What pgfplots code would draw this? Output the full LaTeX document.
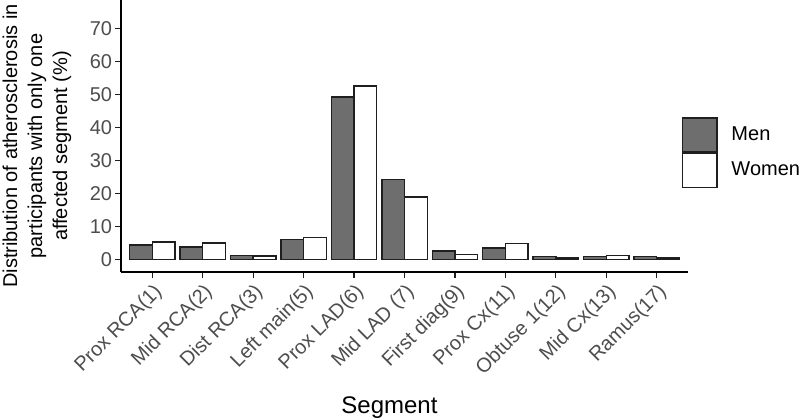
\documentclass[border=0pt]{standalone}
\usepackage{pgfplots}
\pgfplotsset{compat=1.18}
\usepackage{fontspec}
\setmainfont{Liberation Sans}
\definecolor{menfill}{HTML}{6E6E6E}
\definecolor{edge}{HTML}{1F1F1F}
\definecolor{ticklab}{HTML}{4D4D4D}
\pgfplotstableread{
x men women
0 4.5 5.4
1 3.8 5.1
2 1.3 1.1
3 6.2 6.8
4 49.2 52.5
5 24.2 19.0
6 2.6 1.6
7 3.6 4.9
8 1.0 0.5
9 1.0 1.3
10 1.0 0.5
}\datatable
\begin{document}
\begin{tikzpicture}
\begin{axis}[
  scale only axis,
  width=283.5bp, height=136bp,
  xmin=-0.62, xmax=10.62,
  ymin=-3.7, ymax=78.5,
  axis lines=left,
  axis line style={-, line width=0.7bp, black},
  tick style={line width=0.6bp, color=edge},
  tick align=outside,
  major tick length=2.75bp,
  ytick={0,10,...,70},
  xtick={0,...,10},
  xticklabels={Prox RCA(1),Mid RCA(2),Dist RCA(3),Left main(5),Prox LAD(6),Mid LAD (7),First diag(9),Prox Cx(11),Obtuse 1(12),Mid Cx(13),Ramus(17)},
  /pgf/number format/assume math mode=true,
  yticklabel style={font=\fontsize{10bp}{12bp}\selectfont, color=ticklab, inner sep=1.5bp},
  xticklabel style={font=\fontsize{10bp}{12bp}\selectfont, color=ticklab, rotate=45, anchor=north east, inner sep=1.5bp},
  ylabel={Distribution of atherosclerosis in\\participants with only one\\affected segment (\%)},
  ylabel style={font=\fontsize{10bp}{12.5bp}\selectfont, align=center, at={(axis description cs:-0.1481,0.463)}, anchor=center},
  xlabel={Segment},
  xlabel style={font=\fontsize{12bp}{14bp}\selectfont, at={(axis description cs:0.4735,0)}, yshift=-70.65bp, anchor=base},
  legend cell align=left,
  legend image code/.code={\draw[#1, line width=0.7bp] (0bp,-8.5bp) rectangle (17.2bp,8.5bp);},
  legend style={at={(axis description cs:0.9894,0.5684)}, anchor=north west, draw=none, fill=none, inner sep=0pt, outer sep=0pt, row sep=0pt,
    font=\fontsize{10bp}{12bp}\selectfont,
    nodes={inner sep=0.35bp},
    /tikz/every odd column/.append style={column sep=6.5bp}},
]
\addplot[ybar, bar width=0.45, bar shift=-0.225, fill=menfill, draw=edge, line width=0.7bp] table[x=x, y=men] {\datatable};
\addlegendentry{Men}
\addplot[ybar, bar width=0.45, bar shift=0.225, fill=white, draw=edge, line width=0.7bp] table[x=x, y=women] {\datatable};
\addlegendentry{Women}
\end{axis}
\pgfresetboundingbox
\path[use as bounding box] (-60.5bp,-73.5bp) rectangle (339.5bp,136bp);
\end{tikzpicture}
\end{document}
